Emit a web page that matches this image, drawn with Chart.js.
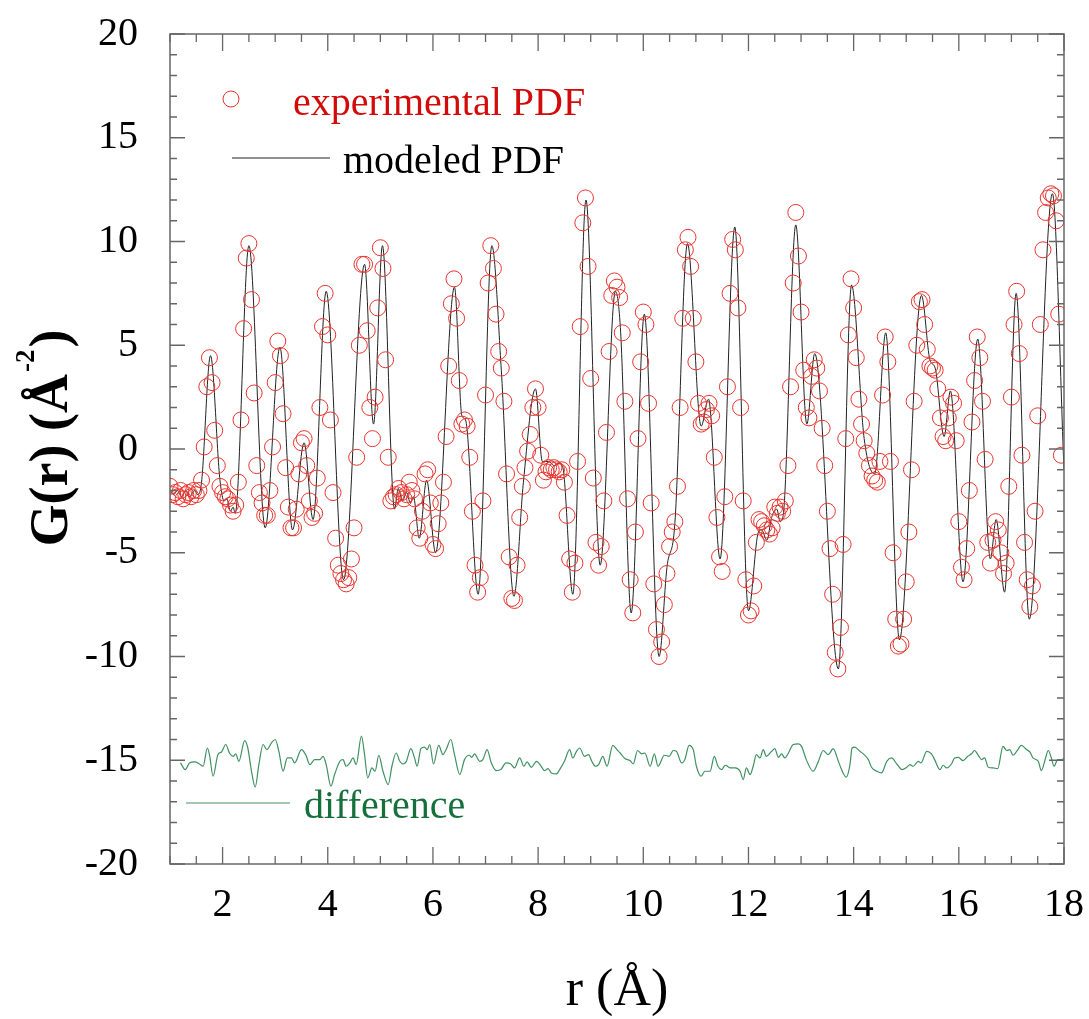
<!DOCTYPE html>
<html>
<head>
<meta charset="utf-8">
<title>PDF fit</title>
<script src="https://cdn.jsdelivr.net/npm/chart.js@4.4.1/dist/chart.umd.min.js"></script>
<style>
  html, body { margin: 0; padding: 0; background: #fff; }
  #wrap { width: 1089px; height: 1019px; position: relative; }
</style>
</head>
<body>
<div id="wrap"><canvas id="pdfChart"></canvas></div>
<script>
// Sampling grid of the measured PDF (r in Angstrom)
const rStart = 1.0;
const rStep = 0.05;

// Experimental G(r), one value per grid step (1.00 ... 17.95)
const expG = [
  -1.8, -2.2, -2.1, -2.3, -2.0, -2.4, -2.2, -2.1, -2.3, -2.0, -2.2, -2.0, -1.5, 0.1, 3.0, 4.4, 3.2, 0.9, -0.8, -1.8,
  -2.1, -2.3, -2.4, -2.7, -3.0, -2.7, -1.6, 1.4, 5.8, 9.2, 9.9, 7.2, 2.7, -0.8, -2.1, -2.6, -3.2, -3.2, -2.0, 0.1,
  3.2, 5.2, 4.5, 1.7, -0.9, -2.8, -3.8, -3.8, -2.9, -1.2, 0.3, 0.5, -0.8, -2.5, -3.3, -3.1, -1.4, 2.0, 5.9, 7.5,
  5.5, 1.4, -2.1, -4.3, -5.6, -6.0, -6.3, -6.5, -6.2, -5.3, -3.8, -0.4, 5.0, 8.9, 8.9, 5.7, 2.0, 0.5, 2.5, 6.8,
  9.7, 8.7, 4.3, -0.4, -2.5, -2.3, -2.2, -1.9, -2.1, -2.4, -2.2, -1.6, -2.0, -2.4, -3.8, -4.3, -3.0, -1.2, -1.0, -2.6,
  -4.6, -4.8, -3.6, -2.6, -1.6, 0.6, 4.0, 7.0, 8.2, 6.3, 3.3, 1.2, 1.4, 1.1, -0.4, -3.0, -5.6, -6.9, -6.2, -2.5,
  2.6, 8.0, 9.8, 8.7, 6.5, 4.7, 3.9, 2.3, -1.2, -5.2, -7.2, -7.3, -5.6, -3.3, -1.8, -0.9, -0.1, 0.7, 2.0, 2.9,
  2.0, -0.3, -1.5, -1.1, -0.9, -1.0, -0.9, -1.0, -1.1, -1.0, -1.6, -3.2, -5.3, -6.9, -5.5, -0.6, 5.9, 10.9, 12.1, 8.8,
  3.4, -1.4, -4.5, -5.6, -4.7, -2.5, 0.8, 4.7, 7.4, 8.1, 7.8, 7.3, 5.6, 2.3, -2.4, -6.3, -7.9, -4.0, 0.5, 4.2,
  6.6, 6.0, 2.2, -2.6, -6.5, -8.7, -10.0, -9.3, -7.5, -6.0, -4.7, -4.0, -3.5, -1.8, 2.0, 6.3, 9.6, 10.2, 8.8, 6.3,
  4.2, 2.2, 1.2, 1.3, 1.9, 2.2, 1.6, -0.4, -3.3, -5.2, -5.9, -2.3, 3.0, 7.5, 10.1, 9.6, 6.8, 2.0, -2.5, -6.3,
  -8.0, -7.8, -6.6, -4.5, -3.4, -3.5, -3.7, -3.9, -4.1, -3.8, -2.8, -3.1, -2.8, -3.0, -2.5, -0.8, 3.0, 8.0, 11.4, 9.3,
  6.6, 3.8, 2.0, 1.5, 3.5, 4.3, 3.9, 2.8, 1.0, -0.8, -3.0, -4.8, -7.0, -9.8, -10.6, -8.6, -4.6, 0.5, 5.5, 8.2,
  6.8, 4.4, 2.4, 1.2, 0.4, -0.2, -0.8, -1.3, -1.5, -1.6, -0.6, 2.6, 5.4, 4.2, -0.6, -5.0, -8.2, -9.5, -9.4, -8.2,
  -6.4, -4.0, -1.0, 2.3, 5.0, 7.1, 7.2, 6.0, 4.8, 4.0, 3.9, 3.8, 2.9, 1.5, 0.6, 0.4, 1.5, 2.5, 2.2, 0.4,
  -3.5, -5.7, -6.3, -4.8, -2.0, 1.3, 3.3, 5.4, 4.4, 2.3, -0.5, -4.5, -5.5, -4.4, -3.5, -3.9, -5.0, -6.0, -5.5, -1.8,
  2.5, 6.0, 7.6, 4.6, -0.3, -4.5, -6.3, -7.6, -6.6, -3.0, 1.6, 6.0, 9.6, 11.4, 12.1, 12.3, 12.2, 11.0, 6.5, -0.3
];

// Modeled PDF, read at its turning points
const modelR = [
  1.00, 1.07, 1.14, 1.22, 1.30, 1.38, 1.46, 1.53, 1.60, 1.77, 1.95, 2.03, 2.08, 2.15, 2.20, 2.24,
  2.50, 2.81, 3.09, 3.33, 3.55, 3.72, 3.97, 4.30, 4.70, 4.87, 5.04, 5.27, 5.34, 5.42, 5.50, 5.57,
  5.63, 5.74, 5.88, 6.05, 6.41, 6.55, 6.62, 6.86, 7.12, 7.30, 7.54, 7.72, 7.95, 8.08, 8.20, 8.30,
  8.40, 8.47, 8.66, 8.91, 9.18, 9.47, 9.57, 9.77, 10.02, 10.30, 10.45, 10.60, 10.84, 11.10, 11.24, 11.46,
  11.74, 12.00, 12.19, 12.25, 12.35, 12.44, 12.54, 12.60, 12.66, 12.90, 13.11, 13.26, 13.71, 13.96, 14.20, 14.40,
  14.61, 14.87, 15.29, 15.45, 15.55, 15.72, 15.84, 16.08, 16.36, 16.60, 16.71, 16.87, 17.09, 17.34, 17.78, 18.00
];
const modelG = [
  -2.0, -2.2, -2.0, -2.3, -2.0, -2.3, -2.0, -2.2, -1.6, 4.5, -1.5, -2.5, -2.4, -3.0, -2.8, -3.1,
  9.8, -3.8, 4.9, -3.9, 0.3, -3.4, 7.6, -6.3, 8.9, 1.2, 9.8, -2.9, -1.9, -2.5, -2.1, -2.6,
  -2.3, -4.3, -1.5, -5.0, 7.8, 1.6, 1.4, -7.0, 9.8, 3.8, -7.1, -1.6, 2.9, -0.6, -0.6, -0.8,
  -0.7, -0.9, -7.0, 12.0, -5.6, 7.6, 5.6, -7.9, 6.5, -10.0, -5.7, -3.6, 9.9, 1.1, 2.4, -5.3,
  10.7, -7.8, -4.0, -3.9, -4.4, -3.3, -2.9, -3.5, -3.2, 10.8, 1.2, 4.6, -10.6, 7.9, 0.5, -1.2,
  5.6, -9.2, 7.4, 4.3, 3.9, 0.6, 2.8, -6.4, 5.3, -5.3, -3.4, -6.9, 7.5, -8.2, 12.3, -1.0
];

// Difference curve (experimental - model), drawn shifted to -15
const diffR = [
  1.20, 1.29, 1.37, 1.47, 1.56, 1.63, 1.71, 1.75, 1.82, 1.91, 1.98, 2.06, 2.13, 2.20, 2.25, 2.31, 2.42, 2.48, 2.55, 2.62,
  2.69, 2.77, 2.84, 2.93, 3.00, 3.07, 3.15, 3.23, 3.31, 3.37, 3.50, 3.58, 3.66, 3.75, 3.85, 3.91, 3.97, 4.06, 4.13, 4.23,
  4.29, 4.35, 4.42, 4.48, 4.54, 4.64, 4.70, 4.76, 4.84, 4.90, 4.97, 5.05, 5.15, 5.22, 5.30, 5.37, 5.43, 5.49, 5.58, 5.65,
  5.70, 5.77, 5.84, 5.89, 5.94, 6.01, 6.11, 6.19, 6.25, 6.34, 6.41, 6.51, 6.60, 6.69, 6.74, 6.79, 6.89, 6.95, 7.03, 7.11,
  7.20, 7.29, 7.39, 7.48, 7.55, 7.65, 7.73, 7.79, 7.87, 7.97, 8.06, 8.12, 8.19, 8.25, 8.35, 8.41, 8.50, 8.60, 8.66, 8.73,
  8.79, 8.88, 8.96, 9.02, 9.09, 9.15, 9.23, 9.31, 9.42, 9.50, 9.56, 9.65, 9.75, 9.81, 9.89, 9.97, 10.03, 10.13, 10.21, 10.28,
  10.40, 10.49, 10.57, 10.63, 10.73, 10.79, 10.87, 10.95, 11.01, 11.10, 11.17, 11.27, 11.35, 11.42, 11.49, 11.56, 11.65, 11.75, 11.84, 11.90,
  11.96, 12.03, 12.09, 12.15, 12.22, 12.28, 12.34, 12.44, 12.50, 12.57, 12.63, 12.69, 12.76, 12.85, 12.95, 13.01, 13.10, 13.23, 13.33, 13.42,
  13.52, 13.61, 13.71, 13.77, 13.86, 13.93, 13.97, 14.02, 14.12, 14.20, 14.28, 14.34, 14.44, 14.53, 14.63, 14.72, 14.82, 14.92, 15.01, 15.07,
  15.13, 15.23, 15.28, 15.39, 15.48, 15.54, 15.64, 15.70, 15.77, 15.86, 15.92, 15.99, 16.08, 16.17, 16.24, 16.30, 16.37, 16.43, 16.49, 16.56,
  16.65, 16.74, 16.84, 16.91, 16.97, 17.03, 17.10, 17.19, 17.29, 17.35, 17.41, 17.51, 17.57, 17.65, 17.70, 17.76, 17.81, 17.88, 17.95, 18.00
];
const diffG = [
  -15.13, -15.45, -15.13, -15.08, -15.18, -15.29, -14.41, -14.73, -15.77, -14.73, -14.60, -14.24, -14.65, -14.81, -14.69, -15.05, -14.05, -14.41, -15.53, -16.29,
  -15.21, -14.24, -14.49, -14.16, -14.00, -14.57, -15.53, -14.89, -14.89, -15.13, -14.49, -14.73, -15.21, -14.97, -14.97, -14.81, -15.21, -16.25, -15.69, -15.05,
  -14.97, -15.29, -15.13, -14.89, -15.21, -13.84, -14.73, -15.85, -15.37, -15.53, -14.76, -15.53, -16.17, -15.29, -14.65, -15.05, -15.18, -15.08, -14.44, -14.89,
  -15.29, -14.44, -14.37, -14.49, -14.24, -15.18, -14.28, -14.73, -14.49, -14.00, -14.73, -15.69, -14.97, -14.76, -14.86, -14.69, -15.05, -14.97, -14.49, -15.13,
  -15.50, -15.45, -15.13, -15.18, -15.37, -14.89, -15.29, -15.08, -15.34, -15.05, -15.29, -15.50, -15.40, -15.61, -15.66, -15.45, -15.05, -14.49, -14.89, -14.57,
  -14.41, -14.81, -14.73, -15.05, -15.29, -15.21, -14.81, -15.29, -14.28, -14.49, -14.65, -14.92, -15.02, -15.18, -14.53, -14.69, -14.65, -15.29, -14.69, -15.29,
  -14.76, -14.81, -14.53, -14.57, -15.13, -14.97, -14.28, -14.49, -15.29, -15.77, -15.53, -15.53, -14.81, -15.29, -15.45, -15.24, -15.37, -15.37, -15.53, -15.93,
  -15.37, -15.69, -15.29, -14.73, -14.89, -14.49, -14.81, -14.57, -14.44, -14.86, -14.69, -14.89, -14.65, -14.24, -14.21, -14.33, -14.97, -15.53, -15.05, -14.53,
  -14.73, -14.44, -15.05, -15.45, -15.82, -15.21, -14.41, -14.37, -14.57, -14.73, -14.97, -15.34, -15.53, -15.61, -15.05, -14.89, -15.18, -15.45, -15.34, -15.21,
  -15.29, -15.05, -15.13, -14.57, -14.69, -14.97, -15.45, -15.24, -15.37, -15.18, -14.89, -14.86, -15.02, -14.81, -14.69, -14.53, -14.76, -14.97, -14.89, -15.34,
  -15.37, -15.40, -14.33, -14.53, -14.49, -14.76, -14.57, -14.28, -14.49, -14.60, -14.89, -15.05, -15.50, -14.89, -14.53, -14.89, -15.29, -14.97, -14.97, -14.92
];

// Axes
const xTicks = [2, 4, 6, 8, 10, 12, 14, 16, 18];
const yTicks = [-20, -15, -10, -5, 0, 5, 10, 15, 20];
const xMinorStep = 0.5;
const yMinorStep = 1;

const serif = "'Liberation Serif', 'Times New Roman', serif";
const circleRed = '#e8332c';
const textRed = '#d20a0a';
const lineGreen = '#3f9161';
const textGreen = '#17703b';

const expPoints = expG.map((g, i) => ({ x: +(rStart + i * rStep).toFixed(2), y: g }));
const modelPoints = modelR.map((r, i) => ({ x: r, y: modelG[i] }));
const diffPoints = diffR.map((r, i) => ({ x: r, y: diffG[i] }));

// Frame with inward ticks, axis titles and the in-plot legend
const framePlugin = {
  id: 'frame',
  afterDraw(chart) {
    const { ctx, chartArea: a, scales: { x, y } } = chart;
    ctx.save();

    // frame + ticks
    ctx.strokeStyle = '#666';
    ctx.lineWidth = 1.5;
    ctx.strokeRect(a.left, a.top, a.right - a.left, a.bottom - a.top);
    ctx.lineWidth = 1.3;
    ctx.beginPath();
    for (let v = x.min; v <= x.max + 1e-9; v += xMinorStep) {
      const px = x.getPixelForValue(v);
      const len = xTicks.includes(v) ? 17 : 8;
      ctx.moveTo(px, a.bottom); ctx.lineTo(px, a.bottom - len);
      ctx.moveTo(px, a.top); ctx.lineTo(px, a.top + len);
    }
    for (let v = y.min; v <= y.max + 1e-9; v += yMinorStep) {
      const py = y.getPixelForValue(v);
      const len = yTicks.includes(v) ? 15 : 7;
      ctx.moveTo(a.left, py); ctx.lineTo(a.left + len, py);
      ctx.moveTo(a.right, py); ctx.lineTo(a.right - len, py);
    }
    ctx.stroke();

    // x title
    ctx.fillStyle = '#000';
    ctx.textAlign = 'center';
    ctx.textBaseline = 'alphabetic';
    ctx.font = `52px ${serif}`;
    ctx.fillText('r (Å)', (a.left + a.right) / 2, 1005);

    // y title with superscript, rotated
    const big = `bold 54px ${serif}`;
    const small = `bold 27px ${serif}`;
    ctx.font = big;
    const w1 = ctx.measureText('G(r) (Å').width;
    const w3 = ctx.measureText(')').width;
    ctx.font = small;
    const w2 = ctx.measureText('-2').width;
    const total = w1 + 2 + w2 + 2 + w3;
    ctx.translate(67, 438 + total / 2);
    ctx.rotate(-Math.PI / 2);
    ctx.textAlign = 'left';
    ctx.font = big;
    ctx.fillText('G(r) (Å', 0, 0);
    ctx.font = small;
    ctx.fillText('-2', w1 + 2, -33);
    ctx.font = big;
    ctx.fillText(')', w1 + 4 + w2, 0);
    ctx.restore();

    // legend
    ctx.save();
    ctx.font = `40px ${serif}`;
    ctx.textAlign = 'left';
    ctx.textBaseline = 'alphabetic';
    ctx.strokeStyle = circleRed;
    ctx.lineWidth = 1;
    ctx.beginPath();
    ctx.arc(231, 99, 8, 0, Math.PI * 2);
    ctx.stroke();
    ctx.fillStyle = textRed;
    ctx.fillText('experimental PDF', 293, 115);

    ctx.strokeStyle = '#222';
    ctx.beginPath();
    ctx.moveTo(232, 158); ctx.lineTo(330, 158);
    ctx.stroke();
    ctx.fillStyle = '#000';
    ctx.fillText('modeled PDF', 343, 173);

    ctx.strokeStyle = lineGreen;
    ctx.beginPath();
    ctx.moveTo(186, 803); ctx.lineTo(290, 803);
    ctx.stroke();
    ctx.fillStyle = textGreen;
    ctx.fillText('difference', 304, 818);
    ctx.restore();
  }
};

// keep the plot box fixed: no extra room for overhanging edge labels
function fixPadding(s) {
  s.paddingTop = 0;
  s.paddingBottom = 0;
  s.paddingLeft = 0;
  s.paddingRight = 0;
}

new Chart(document.getElementById('pdfChart'), {
  type: 'scatter',
  data: {
    datasets: [
      {
        label: 'experimental PDF',
        data: expPoints,
        showLine: false,
        pointStyle: 'circle',
        pointRadius: 8,
        pointHoverRadius: 8,
        pointBorderWidth: 1,
        pointBorderColor: circleRed,
        pointBackgroundColor: 'rgba(0,0,0,0)'
      },
      {
        label: 'modeled PDF',
        data: modelPoints,
        showLine: true,
        pointRadius: 0,
        borderColor: '#222',
        borderWidth: 1,
        cubicInterpolationMode: 'monotone'
      },
      {
        label: 'difference',
        data: diffPoints,
        showLine: true,
        pointRadius: 0,
        borderColor: lineGreen,
        borderWidth: 1.2,
        cubicInterpolationMode: 'monotone'
      }
    ]
  },
  options: {
    responsive: true,
    maintainAspectRatio: false,
    animation: false,
    layout: { padding: { top: 34, right: 25, left: 0, bottom: 0 } },
    plugins: { legend: { display: false }, tooltip: { enabled: false } },
    scales: {
      x: {
        type: 'linear',
        min: 1,
        max: 18,
        afterBuildTicks: s => { s.ticks = xTicks.map(v => ({ value: v })); },
        afterFit: s => { s.height = 155; fixPadding(s); },
        grid: { display: false },
        border: { display: false },
        ticks: { font: { family: serif, size: 40 }, color: '#000', padding: 9, maxRotation: 0, autoSkip: false }
      },
      y: {
        type: 'linear',
        min: -20,
        max: 20,
        afterBuildTicks: s => { s.ticks = yTicks.map(v => ({ value: v })); },
        afterFit: s => { s.width = 170; fixPadding(s); },
        grid: { display: false },
        border: { display: false },
        ticks: { font: { family: serif, size: 40 }, color: '#000', padding: 24, autoSkip: false }
      }
    }
  },
  plugins: [framePlugin]
});
</script>
</body>
</html>
